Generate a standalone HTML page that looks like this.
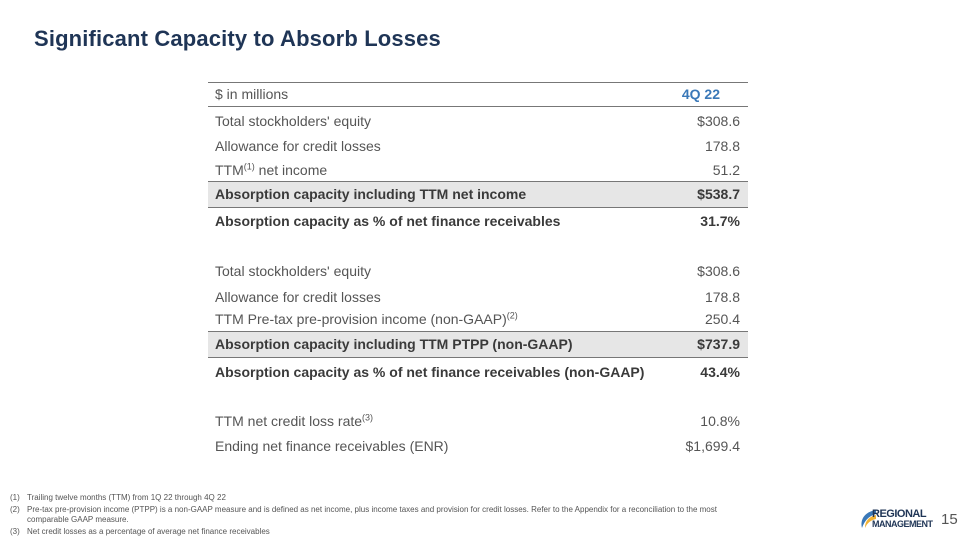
<!DOCTYPE html>
<html><head><meta charset="utf-8"><style>
body{margin:0;width:960px;height:540px;background:#fff;font-family:"Liberation Sans",sans-serif;position:relative;overflow:hidden}
.t{position:absolute;left:34px;top:26px;font-size:22px;font-weight:bold;color:#1f3556;letter-spacing:0.15px}
.r{position:absolute;left:208px;width:540px;height:24px;line-height:24px;font-size:14px;color:#555}
.r .l{position:absolute;left:7px}
.r .v{position:absolute;right:8px}
.r.b{font-weight:bold;color:#3a3a3a}
.sh{background:#e6e6e6}
.ln{position:absolute;left:208px;width:540px;height:1px;background:#777}
sup{font-size:9px;line-height:0}
.fn{position:absolute;left:10px;font-size:8px;color:#555;line-height:10px}
.fn span{position:absolute;left:0}
.fn div{margin-left:17px}
</style></head><body>
<div class="t">Significant Capacity to Absorb Losses</div>
<div class="ln" style="top:82px"></div>
<div class="r" style="top:82px"><span class="l">$ in millions</span><span class="v" style="right:28px;color:#3a78b8;font-weight:bold">4Q 22</span></div>
<div class="ln" style="top:106px"></div>
<div class="r" style="top:109px"><span class="l">Total stockholders' equity</span><span class="v">$308.6</span></div>
<div class="r" style="top:134px"><span class="l">Allowance for credit losses</span><span class="v">178.8</span></div>
<div class="r" style="top:158px"><span class="l">TTM<sup>(1)</sup> net income</span><span class="v">51.2</span></div>
<div class="ln" style="top:181px"></div>
<div class="r b sh" style="top:182px;height:25px"><span class="l">Absorption capacity including TTM net income</span><span class="v">$538.7</span></div>
<div class="ln" style="top:207px"></div>
<div class="r b" style="top:209px"><span class="l">Absorption capacity as % of net finance receivables</span><span class="v">31.7%</span></div>
<div class="r" style="top:259px"><span class="l">Total stockholders' equity</span><span class="v">$308.6</span></div>
<div class="r" style="top:285px"><span class="l">Allowance for credit losses</span><span class="v">178.8</span></div>
<div class="r" style="top:307px"><span class="l">TTM Pre-tax pre-provision income (non-GAAP)<sup>(2)</sup></span><span class="v">250.4</span></div>
<div class="ln" style="top:331px"></div>
<div class="r b sh" style="top:332px;height:25px"><span class="l">Absorption capacity including TTM PTPP (non-GAAP)</span><span class="v">$737.9</span></div>
<div class="ln" style="top:357px"></div>
<div class="r b" style="top:360px"><span class="l">Absorption capacity as % of net finance receivables (non-GAAP)</span><span class="v">43.4%</span></div>
<div class="r" style="top:409px"><span class="l">TTM net credit loss rate<sup>(3)</sup></span><span class="v">10.8%</span></div>
<div class="r" style="top:434px"><span class="l">Ending net finance receivables (ENR)</span><span class="v">$1,699.4</span></div>
<div class="fn" style="top:493px"><span>(1)</span><div>Trailing twelve months (TTM) from 1Q 22 through 4Q 22</div></div>
<div class="fn" style="top:505px;width:745px"><span>(2)</span><div>Pre-tax pre-provision income (PTPP) is a non-GAAP measure and is defined as net income, plus income taxes and provision for credit losses. Refer to the Appendix for a reconciliation to the most comparable GAAP measure.</div></div>
<div class="fn" style="top:527px"><span>(3)</span><div>Net credit losses as a percentage of average net finance receivables</div></div>
<div style="position:absolute;left:858px;top:508px;width:82px;height:22px">
<svg width="20" height="22" style="position:absolute;left:0;top:0"><path d="M18 2 C6 4 2 12 4 20 C6 14 10 8 18 6Z" fill="#3a78b8"/><path d="M18 7 C10 9 7 14 7 20 C9 15 13 12 18 11Z" fill="#f2b233"/></svg>
<div style="position:absolute;left:14px;top:1px;font-size:11px;font-weight:bold;color:#1f3556;line-height:10px;letter-spacing:-0.5px">REGIONAL<br><span style="font-size:9px">MANAGEMENT</span></div>
</div>
<div style="position:absolute;left:941px;top:511px;font-size:15px;color:#555">15</div>
</body></html>
